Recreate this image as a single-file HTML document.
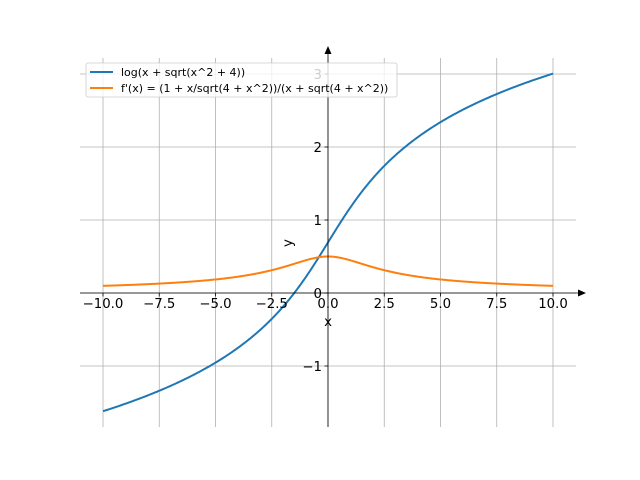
<!DOCTYPE html>
<html><head><meta charset="utf-8"><style>
html,body{margin:0;padding:0;background:#fff;width:640px;height:480px;overflow:hidden}
text{font-family:"DejaVu Sans","Liberation Sans",sans-serif;}
</style></head><body>
<svg id="s" width="640" height="480" viewBox="0 0 640 480" xmlns="http://www.w3.org/2000/svg">
<rect width="640" height="480" fill="#fff"/>
<g stroke="#b0b0b0" stroke-width="0.8">
<line x1="103" y1="58" x2="103" y2="427"/>
<line x1="159.25" y1="58" x2="159.25" y2="427"/>
<line x1="215.5" y1="58" x2="215.5" y2="427"/>
<line x1="271.75" y1="58" x2="271.75" y2="427"/>
<line x1="328" y1="58" x2="328" y2="427"/>
<line x1="384.25" y1="58" x2="384.25" y2="427"/>
<line x1="440.5" y1="58" x2="440.5" y2="427"/>
<line x1="496.75" y1="58" x2="496.75" y2="427"/>
<line x1="553" y1="58" x2="553" y2="427"/>
<line x1="80" y1="74" x2="576" y2="74"/>
<line x1="80" y1="147" x2="576" y2="147"/>
<line x1="80" y1="220" x2="576" y2="220"/>
<line x1="80" y1="293" x2="576" y2="293"/>
<line x1="80" y1="366" x2="576" y2="366"/>
</g>
<path id="p1" fill="none" stroke="#1f77b4" stroke-width="2"/>
<path id="p2" fill="none" stroke="#ff7f0e" stroke-width="2"/>
<g stroke="#000" stroke-width="0.8">
<line x1="80" y1="293" x2="580" y2="293"/>
<line x1="328" y1="427" x2="328" y2="52"/>
<line x1="103" y1="293" x2="103" y2="296.5"/>
<line x1="159.25" y1="293" x2="159.25" y2="296.5"/>
<line x1="215.5" y1="293" x2="215.5" y2="296.5"/>
<line x1="271.75" y1="293" x2="271.75" y2="296.5"/>
<line x1="328" y1="293" x2="328" y2="296.5"/>
<line x1="384.25" y1="293" x2="384.25" y2="296.5"/>
<line x1="440.5" y1="293" x2="440.5" y2="296.5"/>
<line x1="496.75" y1="293" x2="496.75" y2="296.5"/>
<line x1="553" y1="293" x2="553" y2="296.5"/>
<line x1="324.5" y1="74" x2="328" y2="74"/>
<line x1="324.5" y1="147" x2="328" y2="147"/>
<line x1="324.5" y1="220" x2="328" y2="220"/>
<line x1="324.5" y1="293" x2="328" y2="293"/>
<line x1="324.5" y1="366" x2="328" y2="366"/>
</g>
<polygon points="586,293 578,289.5 578,296.5" fill="#000"/>
<polygon points="328,46 324.5,54 331.5,54" fill="#000"/>
<g font-size="13.3" fill="#000" text-anchor="middle">
<text x="103" y="308">−10.0</text>
<text x="159.25" y="308">−7.5</text>
<text x="215.5" y="308">−5.0</text>
<text x="271.75" y="308">−2.5</text>
<text x="328" y="308">0.0</text>
<text x="384.25" y="308">2.5</text>
<text x="440.5" y="308">5.0</text>
<text x="496.75" y="308">7.5</text>
<text x="553" y="308">10.0</text>
<text x="328" y="326">x</text>
</g>
<g font-size="13.3" fill="#000" text-anchor="end">
<text x="322" y="79">3</text>
<text x="322" y="152">2</text>
<text x="322" y="225">1</text>
<text x="322" y="298">0</text>
<text x="322" y="371">−1</text>
</g>
<text x="0" y="0" font-size="13.3" text-anchor="middle" transform="translate(292,243) rotate(-90)">y</text>
<rect x="86" y="63" width="311" height="34" rx="2" fill="#fff" fill-opacity="0.8" stroke="#ccc" stroke-width="0.8"/>
<line x1="90" y1="72" x2="113" y2="72" stroke="#1f77b4" stroke-width="2"/>
<line x1="90" y1="88" x2="113" y2="88" stroke="#ff7f0e" stroke-width="2"/>
<g font-size="11" fill="#000">
<text x="121" y="76">log(x + sqrt(x^2 + 4))</text>
<text x="121" y="92">f'(x) = (1 + x/sqrt(4 + x^2))/(x + sqrt(4 + x^2))</text>
</g>
</svg>
<script>
var a="",b="";
for(var i=0;i<=400;i++){var x=-10+i*0.05;var X=(328+x*22.5).toFixed(2);
var y1=Math.log(x+Math.sqrt(x*x+4)),y2=1/Math.sqrt(x*x+4);
a+=(i?"L":"M")+X+","+(293-y1*73).toFixed(2);
b+=(i?"L":"M")+X+","+(293-y2*73).toFixed(2);}
document.getElementById("p1").setAttribute("d",a);
document.getElementById("p2").setAttribute("d",b);
</script>
</body></html>
